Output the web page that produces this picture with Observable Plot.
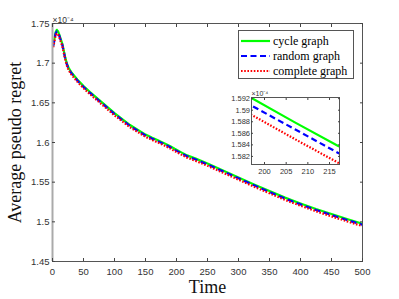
<!DOCTYPE html>
<html><head><meta charset="utf-8">
<script src="https://cdn.jsdelivr.net/npm/d3@7"></script>
<script src="https://cdn.jsdelivr.net/npm/@observablehq/plot@0.6"></script>
<style>
body{margin:0;background:#fff;}
#wrap{position:relative;width:399px;height:299px;overflow:hidden;}
#wrap svg{position:absolute;left:0;top:0;background:transparent;}
#legend{position:absolute;left:238px;top:30px;width:114px;height:47px;border:1px solid #555;background:#fff;font-family:'Liberation Serif','Times New Roman',serif;font-size:12px;color:#000;}
#legend .row{position:absolute;left:2px;height:14px;display:flex;align-items:center;}
#legend svg{position:static;}
#legend span{margin-left:3px;white-space:nowrap;font-family:'Liberation Serif','Times New Roman',serif;}
</style></head><body><div id="wrap"></div>
<script>
// Time steps (samples)
const times    = [1, 3, 5, 7, 9, 11, 13, 16, 20, 23, 26, 30, 40, 50, 60, 77, 100, 125, 150, 160, 170, 180, 190, 197, 207, 217, 230, 250, 275, 300, 325, 350, 375, 400, 425, 450, 475, 500];
// Average pseudo regret (x 1e-4)
const cycle    = [1.7220, 1.7300, 1.7390, 1.7420, 1.7400, 1.7360, 1.7310, 1.7240, 1.7090, 1.7000, 1.6940, 1.6890, 1.6795, 1.6712, 1.6640, 1.6525, 1.6370, 1.6220, 1.6100, 1.6062, 1.6028, 1.5992, 1.5952, 1.5921, 1.5879, 1.5838, 1.5800, 1.5735, 1.5648, 1.5560, 1.5472, 1.5388, 1.5305, 1.5232, 1.5162, 1.5098, 1.5035, 1.4975];
const random   = [1.7212, 1.7288, 1.7372, 1.7400, 1.7382, 1.7345, 1.7296, 1.7227, 1.7078, 1.6988, 1.6928, 1.6878, 1.6783, 1.6700, 1.6628, 1.6513, 1.6358, 1.6208, 1.6088, 1.6050, 1.6016, 1.5980, 1.5940, 1.5908, 1.5867, 1.5826, 1.5788, 1.5723, 1.5636, 1.5548, 1.5460, 1.5376, 1.5293, 1.5220, 1.5150, 1.5086, 1.5023, 1.4963];
const complete = [1.7200, 1.7270, 1.7350, 1.7375, 1.7360, 1.7325, 1.7278, 1.7210, 1.7062, 1.6972, 1.6912, 1.6862, 1.6767, 1.6684, 1.6612, 1.6497, 1.6342, 1.6192, 1.6072, 1.6034, 1.6000, 1.5964, 1.5924, 1.5892, 1.5850, 1.5809, 1.5771, 1.5706, 1.5619, 1.5531, 1.5443, 1.5359, 1.5276, 1.5203, 1.5133, 1.5069, 1.5006, 1.4946];
const seriesNames = ["cycle graph", "random graph", "complete graph"];
const seriesColors = ["#00ff00", "#0000ff", "#ff0000"];
const seriesDash = [null, "6,3.5", "1.6,1.6"];

const xTicks = [0, 50, 100, 150, 200, 250, 300, 350, 400, 450, 500];
const yTicks = [1.45, 1.5, 1.55, 1.6, 1.65, 1.7, 1.75];
const yTickLabels = ["1.45", "1.5", "1.55", "1.6", "1.65", "1.7", "1.75"];
const insetXTicks = [200, 205, 210, 215];
const insetYTicks = [1.582, 1.584, 1.586, 1.588, 1.59, 1.592];
const insetYTickLabels = ["1.582", "1.584", "1.586", "1.588", "1.59", "1.592"];
const exponentLabel = "×10⁻⁴";

const allSeries = [cycle, random, complete];
const rows = [];
allSeries.forEach((vals, si) => vals.forEach((v, i) => rows.push({t: times[i], v, s: seriesNames[si]})));

const sans = "Liberation Sans, Arial, sans-serif";
const serif = "Liberation Serif, Times New Roman, serif";

function lineMarks() {
  return seriesNames.map((name, i) => Plot.line(rows.filter(r => r.s === name), {
    x: "t", y: "v", stroke: seriesColors[i], strokeWidth: 2.2,
    strokeDasharray: seriesDash[i], strokeLinecap: "butt", clip: true
  }));
}

const main = Plot.plot({
  width: 399, height: 299,
  marginLeft: 52, marginRight: 37, marginTop: 23, marginBottom: 38,
  style: {background: "transparent", fontFamily: sans},
  x: {domain: [0, 500], axis: null},
  y: {domain: [1.45, 1.75], axis: null},
  marks: [
    ...lineMarks(),
    Plot.frame({stroke: "#555", strokeWidth: 1}),
    Plot.ruleX([0], {stroke: "#aaa", strokeWidth: 2}),
    Plot.axisX(xTicks, {anchor: "bottom", tickSize: -3, fill: "none", label: null, stroke: "#444"}),
    Plot.axisX(xTicks, {anchor: "top", tickSize: -3, fill: "none", label: null, stroke: "#444"}),
    Plot.axisY(yTicks, {anchor: "left", tickSize: -3, fill: "none", label: null, stroke: "#444"}),
    Plot.axisY(yTicks, {anchor: "right", tickSize: -3, fill: "none", label: null, stroke: "#444"}),
    Plot.axisX(xTicks, {anchor: "bottom", tickSize: 0, tickPadding: 7, label: null, fontSize: 9.5, fill: "#333"}),
    Plot.axisY(yTicks, {anchor: "left", tickSize: 0, tickPadding: 3, label: null, fontSize: 9.5, fill: "#333",
      tickFormat: d => yTickLabels[yTicks.indexOf(d)]}),
    Plot.text([exponentLabel], {frameAnchor: "top-left", dy: -7, textAnchor: "start", fontSize: 8.5, fill: "#333"}),
    Plot.text(["Time"], {frameAnchor: "bottom", dy: 26, lineAnchor: "middle", textAnchor: "middle", fontSize: 18, fontFamily: serif, fill: "#111"}),
    Plot.text(["Average pseudo regret"], {frameAnchor: "left", dx: -37, rotate: -90, lineAnchor: "middle", textAnchor: "middle", fontSize: 18, fontFamily: serif, fill: "#111"})
  ]
});

const inset = Plot.plot({
  width: 399, height: 299,
  marginLeft: 251, marginRight: 60, marginTop: 97, marginBottom: 135,
  style: {background: "transparent", fontFamily: sans},
  x: {domain: [197, 217.3], axis: null},
  y: {domain: [1.5806, 1.5922], axis: null},
  marks: [
    Plot.frame({fill: "white", stroke: "none"}),
    ...lineMarks(),
    Plot.frame({stroke: "#555", strokeWidth: 1}),
    Plot.axisX(insetXTicks, {anchor: "bottom", tickSize: -2, fill: "none", label: null, stroke: "#444"}),
    Plot.axisX(insetXTicks, {anchor: "top", tickSize: -2, fill: "none", label: null, stroke: "#444"}),
    Plot.axisY(insetYTicks, {anchor: "left", tickSize: -2, fill: "none", label: null, stroke: "#444"}),
    Plot.axisY(insetYTicks, {anchor: "right", tickSize: -2, fill: "none", label: null, stroke: "#444"}),
    Plot.axisX(insetXTicks, {anchor: "bottom", tickSize: 0, tickPadding: 4, label: null, fontSize: 7.5, fill: "#333"}),
    Plot.axisY(insetYTicks, {anchor: "left", tickSize: 0, tickPadding: 1.5, label: null, fontSize: 7.5, fill: "#333",
      tickFormat: d => insetYTickLabels[insetYTicks.indexOf(d)]}),
    Plot.text([exponentLabel], {frameAnchor: "top-left", dy: -6, textAnchor: "start", fontSize: 7, fill: "#333"})
  ]
});

const wrap = document.getElementById("wrap");
wrap.appendChild(main);
wrap.appendChild(inset);

const legend = document.createElement("div");
legend.id = "legend";
seriesNames.forEach((name, i) => {
  const row = document.createElement("div");
  row.className = "row";
  row.style.top = (3 + i * 15) + "px";
  const dash = seriesDash[i] ? ` stroke-dasharray="${seriesDash[i]}"` : "";
  row.innerHTML = `<svg width="29" height="6"><line x1="0" y1="3" x2="29" y2="3" stroke="${seriesColors[i]}" stroke-width="2.2"${dash}/></svg><span>${name}</span>`;
  legend.appendChild(row);
});
wrap.appendChild(legend);
</script></body></html>
